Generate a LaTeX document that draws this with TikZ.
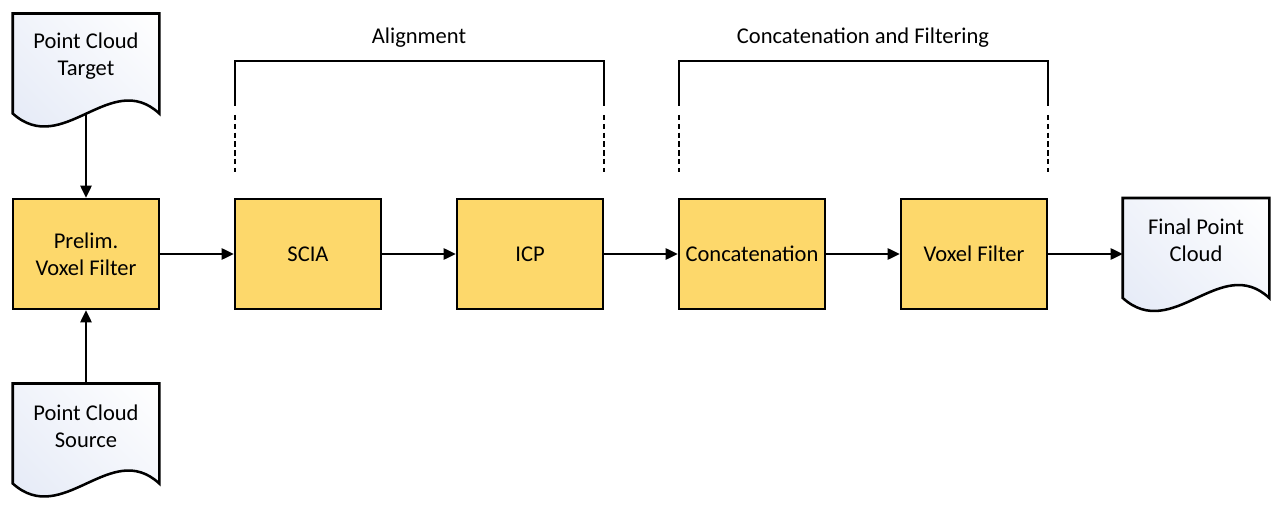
\documentclass[tikz,border=0pt]{standalone}
\usepackage{fontspec}
\setmainfont{Carlito}
\usetikzlibrary{arrows.meta,calc,shadings}
\definecolor{boxfill}{RGB}{253,216,107}
\definecolor{docblue}{RGB}{226,232,246}
\definecolor{docmid}{RGB}{240,243,250}
\newcommand\mainfont{\fontsize{16.9}{20.2}\selectfont}
\tikzset{
  proc/.style={draw=black, line width=1.9pt, fill=boxfill, minimum width=109.5pt,
    minimum height=82.5pt, inner sep=0pt, align=center, font=\mainfont},
  docarea/.style={minimum width=109.5pt, minimum height=74.6pt, inner sep=0pt},
  doctext/.style={align=center, inner sep=0pt, font=\mainfont},
  docshape/.style={draw=black, line width=1.9pt, lower left=docblue, lower right=docmid,
    upper left=docmid, upper right=white},
  flow/.style={line width=1.1pt, -{Triangle[length=9pt,width=8.5pt]}},
  brack/.style={line width=1.1pt},
  brackdash/.style={line width=1.1pt, dash pattern=on 4pt off 2.6pt},
  lbl/.style={inner sep=0pt, font=\mainfont}
}
\newcommand\docshape[1]{%
  \path[docshape] (#1.north west) -- (#1.north east) -- (#1.south east)
    .. controls ($(#1.south west)+(98,-45)$) and ($(#1.south west)+(50,45)$) .. (#1.south west) -- cycle;}
\begin{document}
\begin{tikzpicture}[x=0.75pt,y=-0.75pt]
\useasboundingbox (0,0) rectangle (1286,506);
% process boxes
\node[proc] (pre) at (86,254) {Prelim.\\Voxel Filter};
\node[proc] (scia) at (308,254) {SCIA};
\node[proc] (icp) at (530,254) {ICP};
\node[proc] (cat) at (752,254) {Concatenation};
\node[proc] (vox) at (974,254) {Voxel Filter};
% document shapes
\node[docarea] (tgt) at (86,63.5) {};
\docshape{tgt}
\node[doctext] (tgtt) at ([yshift=5.6pt]tgt.center) {Point Cloud\\Target};
\node[docarea] (src) at (86,433.5) {};
\docshape{src}
\node[doctext] (srct) at ([yshift=5.6pt]src.center) {Point Cloud\\Source};
\node[docarea] (fin) at (1196,248) {};
\docshape{fin}
\node[doctext] (fint) at ([yshift=5.6pt]fin.center) {Final Point\\Cloud};
% connectors
\draw[flow] (tgt.south) -- (pre.north);
\draw[flow] (src.north) -- (pre.south);
\draw[flow] (pre) -- (scia);
\draw[flow] (scia) -- (icp);
\draw[flow] (icp) -- (cat);
\draw[flow] (cat) -- (vox);
\draw[flow] (vox.east) -- (fin.west |- vox.east);
% brackets
\node[lbl] (alg) at (419,38) {Alignment};
\draw[brack] (235,106) -- (235,61) -- (604,61) -- (604,106);
\draw[brackdash] (235,115) -- (235,172);
\draw[brackdash] (604,115) -- (604,172);
\node[lbl] (caf) at (863,38) {Concatenation and Filtering};
\draw[brack] (679,106) -- (679,61) -- (1048,61) -- (1048,106);
\draw[brackdash] (679,115) -- (679,172);
\draw[brackdash] (1048,115) -- (1048,172);
\end{tikzpicture}
\end{document}
